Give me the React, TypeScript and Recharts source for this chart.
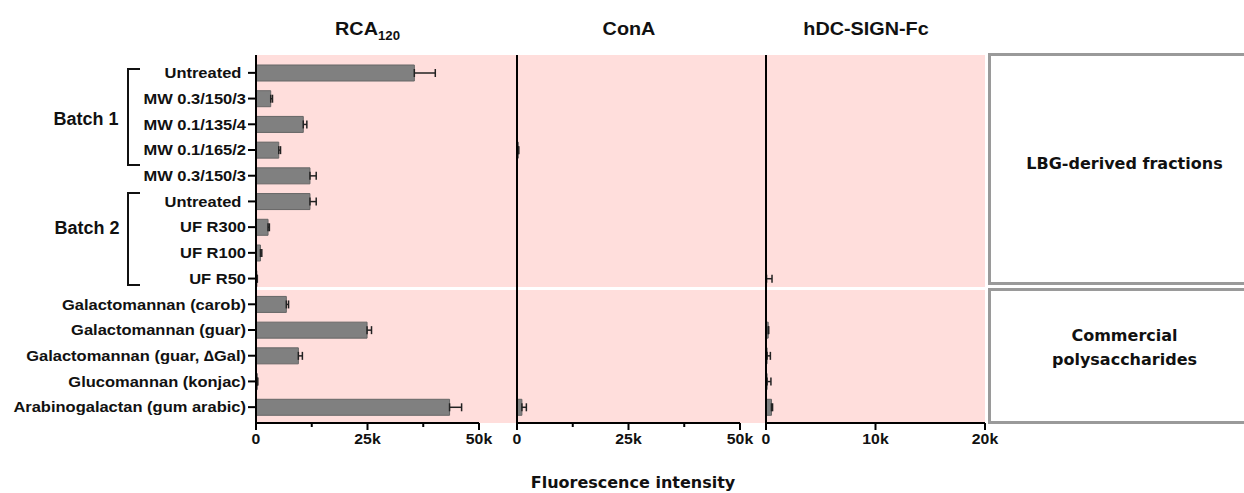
import React from "react";
import { Bar, BarChart, ErrorBar, XAxis, YAxis } from "recharts";

// rows, top to bottom
const categories = [
  "Untreated\u00a0",
  "MW 0.3/150/3",
  "MW 0.1/135/4",
  "MW 0.1/165/2",
  "MW 0.3/150/3",
  "Untreated\u00a0",
  "UF R300",
  "UF R100",
  "UF R50",
  "Galactomannan (carob)",
  "Galactomannan (guar)",
  "Galactomannan (guar, \u2206Gal)",
  "Glucomannan (konjac)",
  "Arabinogalactan (gum arabic)",
];

const rca120 = [35500, 3300, 10600, 5100, 12100, 12100, 2700, 1000, 200, 6800, 24900, 9500, 300, 43400];
const rca120Err = [4700, 400, 800, 400, 1400, 1400, 300, 300, 100, 500, 1000, 900, 100, 2700];
const conA = [0, 0, 0, 300, 0, 0, 0, 0, 0, 0, 0, 0, 0, 1100];
const conAErr = [0, 0, 0, 100, 0, 0, 0, 0, 0, 0, 0, 0, 0, 1000];
const dcSign = [0, 0, 0, 0, 0, 0, 0, 0, 50, 0, 200, 100, 100, 500];
const dcSignErr = [0, 0, 0, 0, 0, 0, 0, 0, 500, 0, 50, 300, 350, 100];

const ticks50k = [0, 12500, 25000, 37500, 50000];
const majors50k = [0, 25000, 50000];
const ticks20k = [0, 10000, 20000];

const FONT = "'Liberation Sans', Arial, sans-serif";
const WIDE = "'DejaVu Sans', sans-serif";
const PINK = "#ffdedc";
const BAR = "#808080";
const INK = "#111";
// the source figure's lettering is a little wider than Arial
const SX = 1.1;

const rows = (vals: number[], errs: number[]) =>
  categories.map((_, i) => ({ id: i, v: vals[i], e: [0, errs[i]] }));

const fmtK = (v: number) => (v === 0 ? "0" : `${v / 1000}k`);

function XTick(props: any) {
  const { x, y, payload, majors } = props;
  const major = majors.includes(payload.value);
  const y0 = y - 11;
  return (
    <g>
      <line x1={x} x2={x} y1={y0} y2={y0 + (major ? 7 : 4)} stroke="#000" strokeWidth={2} />
      {major && (
        <text
          transform={`translate(${x},${y}) scale(1.13,1)`}
          dy="0.71em"
          textAnchor="middle"
          fontSize={14}
          fontWeight="bold"
          fill={INK}
          fontFamily={FONT}
        >
          {fmtK(payload.value)}
        </text>
      )}
    </g>
  );
}

function YTick(props: any) {
  const { x, y, payload } = props;
  return (
    <text
      transform={`translate(${x},${y}) scale(${SX},1)`}
      dy="0.355em"
      textAnchor="end"
      fontSize={15}
      fontWeight="bold"
      fill={INK}
      fontFamily={FONT}
    >
      {categories[payload.value]}
    </text>
  );
}

type PanelProps = {
  data: Array<Record<string, unknown>>;
  max: number;
  ticks: number[];
  majors: number[];
  width: number;
  yWidth: number;
  right: number;
  labels?: boolean;
};

function Panel({ data, max, ticks, majors, width, yWidth, right, labels }: PanelProps) {
  return (
    <BarChart
      width={width}
      height={470}
      data={data}
      layout="vertical"
      margin={{ top: 55, right, bottom: 0, left: 0 }}
      barSize={16}
    >
      <XAxis
        type="number"
        domain={[0, max]}
        ticks={ticks}
        interval={0}
        height={47}
        tickSize={7}
        tickMargin={4}
        tickLine={false}
        tick={<XTick majors={majors} />}
        axisLine={{ stroke: "#000", strokeWidth: 2 }}
      />
      <YAxis
        type="category"
        dataKey="id"
        width={yWidth}
        padding={{ top: 5, bottom: 3 }}
        interval={0}
        tickSize={8}
        tickMargin={2}
        tickLine={{ stroke: "#000", strokeWidth: 2 }}
        axisLine={{ stroke: "#000", strokeWidth: 2 }}
        tick={labels ? <YTick /> : false}
      />
      <Bar dataKey="v" fill={BAR} stroke="#666" strokeWidth={1} isAnimationActive={false}>
        <ErrorBar dataKey="e" direction="x" width={4} stroke="#222" strokeWidth={1.5} />
      </Bar>
    </BarChart>
  );
}

const abs = (left: number, top: number, extra: React.CSSProperties = {}): React.CSSProperties => ({
  position: "absolute",
  left,
  top,
  ...extra,
});

function Title({ left, width, children }: { left: number; width: number; children: React.ReactNode }) {
  return (
    <div style={abs(left, 19, { width, textAlign: "center", fontSize: 18, fontWeight: "bold", color: INK })}>
      <span style={{ display: "inline-block", transform: `scaleX(${SX})` }}>{children}</span>
    </div>
  );
}

export default function App() {
  const box: React.CSSProperties = {
    border: "3px solid #9a9a9a",
    borderRight: "none",
    display: "flex",
    alignItems: "center",
    justifyContent: "center",
    textAlign: "center",
    fontSize: 16,
    lineHeight: "24px",
    fontWeight: "bold",
    fontFamily: WIDE,
    color: INK,
    boxSizing: "border-box",
  };
  return (
    <div style={{ position: "absolute", left: 0, top: 0, width: 1244, height: 493, background: "#fff", fontFamily: FONT, overflow: "hidden" }}>
      {/* pink backdrop with white split between the two groups */}
      <div style={abs(256, 55, { width: 729, height: 368, background: PINK })} />
      <div style={abs(256, 287, { width: 729, height: 3, background: "#fff" })} />

      <div style={abs(0, 0)}>
        <Panel data={rows(rca120, rca120Err)} max={50000} ticks={ticks50k} majors={majors50k} width={517} yWidth={256} right={38} labels />
      </div>
      <div style={abs(497, 0)}>
        <Panel data={rows(conA, conAErr)} max={50000} ticks={ticks50k} majors={majors50k} width={269} yWidth={20} right={26} />
      </div>
      <div style={abs(746, 0)}>
        <Panel data={rows(dcSign, dcSignErr)} max={20000} ticks={ticks20k} majors={ticks20k} width={254} yWidth={20} right={15} />
      </div>

      <Title left={256} width={223}>
        RCA<sub style={{ fontSize: 12 }}>120</sub>
      </Title>
      <Title left={517} width={223}>ConA</Title>
      <Title left={756} width={219}>hDC-SIGN-Fc</Title>

      {/* batch brackets */}
      <svg style={abs(0, 0)} width={160} height={300}>
        <path d="M140 69 H128 V165 H140" fill="none" stroke={INK} strokeWidth={2} />
        <path d="M140 193 H128 V285 H140" fill="none" stroke={INK} strokeWidth={2} />
        <text x={86} y={119} dy="0.35em" textAnchor="middle" fontSize={18} fontWeight="bold" fill={INK} fontFamily={FONT}>
          Batch 1
        </text>
        <text x={87} y={228} dy="0.35em" textAnchor="middle" fontSize={18} fontWeight="bold" fill={INK} fontFamily={FONT}>
          Batch 2
        </text>
      </svg>

      {/* group boxes */}
      <div style={abs(988, 53, { width: 270, height: 232, paddingBottom: 10, ...box })}>LBG-derived fractions</div>
      <div style={abs(988, 288, { width: 270, height: 136, paddingBottom: 16, ...box })}>
        Commercial
        <br />
        polysaccharides
      </div>

      <div style={abs(0, 473, { width: 1244, textAlign: "center", fontSize: 16, fontWeight: "bold", fontFamily: WIDE, color: INK, paddingLeft: 22, boxSizing: "border-box" })}>
        Fluorescence intensity
      </div>
    </div>
  );
}
